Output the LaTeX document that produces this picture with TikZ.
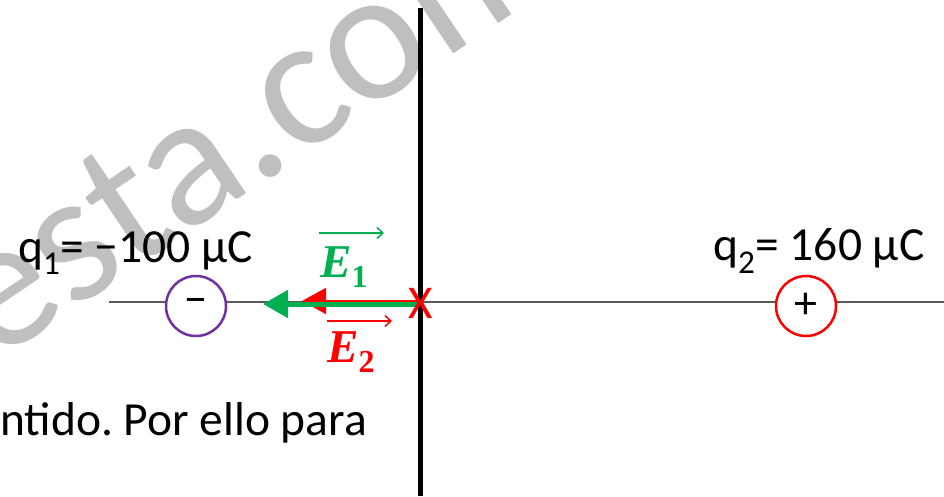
\documentclass[tikz,border=0pt]{standalone}
\usepackage{fontspec}
\setmainfont{Carlito}
\newfontfamily\eqfont{Liberation Serif}
\usetikzlibrary{arrows.meta}
\definecolor{egreen}{HTML}{00B050}
\definecolor{ered}{HTML}{FF0000}
\definecolor{epurple}{HTML}{7030A0}
\definecolor{axisgray}{HTML}{595959}
\definecolor{wmgray}{HTML}{BFBFBF}
\frenchspacing
\tikzset{
  lbl/.style={anchor=base west, inner sep=0pt, font=\fontsize{47.5}{56}\selectfont},
  axisline/.style={draw=axisgray, line width=2pt},
  wallline/.style={draw=black, line width=5pt},
  charge/.style={circle, fill=white, line width=2.5pt, minimum size=60pt, inner sep=0pt, font=\fontsize{46}{46}\selectfont},
  vecarrow/.style={line width=1.5pt, -{Straight Barb[length=6pt,width=11pt]}},
  veclbl/.style={anchor=base west, inner sep=0pt, font=\eqfont\fontsize{47}{52}\selectfont\bfseries\itshape},
}
\newcommand{\vecsub}[1]{\raisebox{-10pt}{\fontsize{32}{32}\selectfont\upshape #1}}
\begin{document}
\begin{tikzpicture}[x=1pt,y=-1pt]
\useasboundingbox (0,0) rectangle (944,496);
% watermark
\begin{scope}
\clip (0,0) rectangle (944,496);
\node[anchor=base west, inner sep=0pt, rotate=34, text=wmgray, font=\fontsize{188}{188}\selectfont] (wm) at (-6,364) {esta.com};
\end{scope}
% axis and wall
\coordinate (axL) at (109,302);
\coordinate (axR) at (944,302);
\coordinate (vT) at (420,8);
\coordinate (vB) at (420,496);
\draw[axisline] (axL) -- (axR);
\draw[wallline] (vT) -- (vB);
% charges
\node[charge, draw=epurple] (q1) at (196,306) {−};
\node[charge, draw=ered] (q2) at (806,306) {+};
% field vectors
\coordinate (rs) at (418,301);
\coordinate (re) at (302,301);
\coordinate (gs) at (418,304);
\coordinate (ge) at (263,304);
\draw[ered, line width=2pt, -{Triangle[length=24pt,width=26pt]}] (rs) -- (re);
\draw[egreen, line width=5pt, -{Triangle[length=25pt,width=27pt]}] (gs) -- (ge);
% point X
\node[text=ered, inner sep=0pt, font=\fontsize{47}{47}\selectfont] (P) at (421,303) {X};
% labels
\node[lbl] (l1) at (18,262) {q\textsubscript{1}= −100 µC};
\node[lbl] (l2) at (713,260) {q\textsubscript{2}= 160 µC};
\node[lbl] (txt) at (0,435) {ntido. Por ello para};
\node[veclbl, text=egreen] (E1) at (320,277) {E\vecsub{1}};
\node[veclbl, text=ered] (E2) at (327,362) {E\vecsub{2}};
\coordinate (e1a) at (319,233);
\coordinate (e1b) at (384,233);
\coordinate (e2a) at (327,321);
\coordinate (e2b) at (392,321);
\draw[vecarrow, egreen] (e1a) -- (e1b);
\draw[vecarrow, ered] (e2a) -- (e2b);
\end{tikzpicture}
\end{document}
